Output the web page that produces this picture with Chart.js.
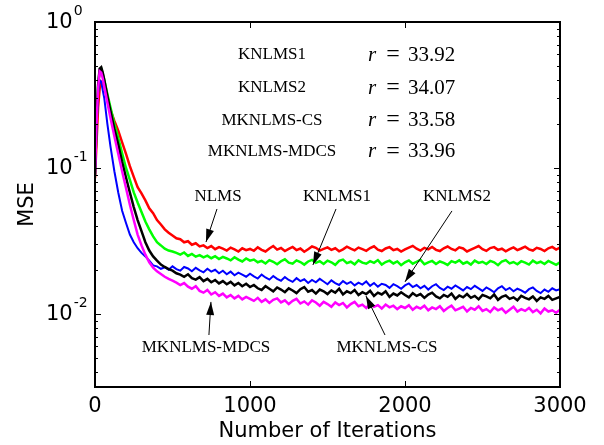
<!DOCTYPE html>
<html>
<head>
<meta charset="utf-8">
<script src="https://cdn.jsdelivr.net/npm/chart.js@4"></script>
<style>
  body { margin: 0; background: #fff; }
</style>
</head>
<body>
<canvas id="chart" width="604" height="445"></canvas>
<script>
// iteration index shared by all curves
const iters = [0, 10, 20, 30, 40, 50, 60, 80, 100,
  125, 150, 175, 200, 225, 250, 275, 300, 325, 350, 375, 400, 425, 450, 475, 500,
  525, 550, 575, 600, 625, 650, 675, 700, 725, 750, 775, 800, 825, 850, 875, 900,
  925, 950, 975, 1000,
  1025, 1050, 1075, 1100, 1125, 1150, 1175, 1200, 1225, 1250,
  1275, 1300, 1325, 1350, 1375, 1400, 1425, 1450, 1475, 1500,
  1525, 1550, 1575, 1600, 1625, 1650, 1675, 1700, 1725, 1750,
  1775, 1800, 1825, 1850, 1875, 1900, 1925, 1950, 1975, 2000,
  2025, 2050, 2075, 2100, 2125, 2150, 2175, 2200, 2225, 2250,
  2275, 2300, 2325, 2350, 2375, 2400, 2425, 2450, 2475, 2500,
  2525, 2550, 2575, 2600, 2625, 2650, 2675, 2700, 2725, 2750,
  2775, 2800, 2825, 2850, 2875, 2900, 2925, 2950, 2975, 3000];

const nlms = [.085, .15, .26, .35, .39, .38, .355, .30, .25,
  .21, .18, .15, .125, .103, .087, .074, .067, .060, .053, .049, .044, .041, .038, .036, .0345,
  .033, .0325, .031, .0315, .0298, .0305, .029, .0295, .0283, .0292, .0278, .0287, .028, .0272, .0285, .0277,
  .0268, .0282, .0274, .0279,
  .0271, .0286, .0275, .0268, .0281, .0292, .0276, .0283, .0270, .0279,
  .0288, .0274, .0281, .0267, .0278, .0290, .0284, .0272, .0279, .0286,
  .0275, .0282, .0269, .0277, .0289, .0280, .0273, .0285, .0278, .0271,
  .0283, .0291, .0276, .0270, .0281, .0287, .0274, .0279, .0268, .0277,
  .0285, .0293, .0280, .0272, .0284, .0277, .0288, .0275, .0270, .0282,
  .0290, .0279, .0273, .0286, .0281, .0268, .0276, .0284, .0292, .0278,
  .0271, .0283, .0287, .0275, .0280, .0269, .0278, .0286, .0274, .0281,
  .0289, .0277, .0272, .0284, .0279, .0270, .0282, .0288, .0276, .0285];

const knlms1 = [.09, .2, .36, .47, .48, .44, .40, .32, .26,
  .20, .16, .126, .10, .083, .068, .058, .050, .043, .038, .034, .031, .0295, .028, .0272, .0268,
  .0262, .0255, .0264, .0250, .0258, .0247, .0253, .0244, .0251, .0241, .0249, .0238, .0246, .0240, .0233, .0245,
  .0236, .0229, .0240, .0232,
  .0236, .0226, .0231, .0222, .0234, .0228, .0219, .0230, .0237, .0225,
  .0221, .0233, .0227, .0218, .0229, .0235, .0224, .0230, .0220, .0232,
  .0226, .0217, .0231, .0236, .0223, .0228, .0219, .0233, .0225, .0221,
  .0230, .0224, .0234, .0218, .0227, .0232, .0222, .0229, .0216, .0226,
  .0233, .0221, .0228, .0235, .0219, .0226, .0231, .0220, .0229, .0224,
  .0217, .0230, .0225, .0233, .0221, .0227, .0218, .0232, .0224, .0228,
  .0220, .0231, .0226, .0216, .0229, .0234, .0222, .0227, .0219, .0230,
  .0225, .0218, .0232, .0223, .0228, .0220, .0231, .0224, .0217, .0226];

const knlms2 = [.09, .2, .33, .40, .39, .34, .30, .20, .14,
  .095, .068, .051, .042, .035, .031, .0282, .0262, .0248, .0232, .0215, .0212, .0204, .0209, .0201, .0212,
  .0203, .0198, .0210, .0205, .0196, .0207, .0199, .0193, .0204, .0195, .0201, .0190, .0198, .0187, .0195, .0184,
  .0192, .0186, .0180, .0189,
  .0181, .0175, .0186, .0178, .0172, .0182, .0174, .0169, .0179, .0171,
  .0166, .0176, .0168, .0173, .0163, .0171, .0165, .0174, .0167, .0160,
  .0170, .0163, .0158, .0168, .0161, .0166, .0157, .0164, .0159, .0167,
  .0156, .0163, .0154, .0161, .0158, .0151, .0160, .0155, .0149, .0157,
  .0162, .0153, .0158, .0150, .0156, .0147, .0155, .0160, .0151, .0146,
  .0154, .0149, .0157, .0151, .0145, .0153, .0148, .0156, .0150, .0144,
  .0152, .0147, .0141, .0150, .0155, .0146, .0151, .0143, .0149, .0145,
  .0140, .0148, .0152, .0144, .0139, .0147, .0142, .0150, .0145, .0148];

const mknlmsCS = [.09, .2, .37, .48, .49, .45, .40, .31, .245,
  .185, .145, .11, .086, .068, .054, .044, .037, .031, .0272, .0248, .0232, .0218, .0210, .0203, .0198,
  .0190, .0186, .0180, .0187, .0176, .0172, .0179, .0168, .0174, .0165, .0171, .0162, .0168, .0160, .0166, .0157,
  .0163, .0155, .0161, .0153,
  .0158, .0150, .0146, .0155, .0149, .0143, .0152, .0147, .0141, .0150,
  .0145, .0139, .0148, .0153, .0142, .0146, .0138, .0147, .0143, .0137,
  .0145, .0140, .0149, .0136, .0143, .0139, .0146, .0135, .0141, .0137,
  .0144, .0133, .0140, .0136, .0143, .0131, .0138, .0134, .0141, .0135,
  .0130, .0139, .0133, .0137, .0129, .0136, .0140, .0132, .0128, .0135,
  .0131, .0138, .0127, .0134, .0130, .0137, .0129, .0133, .0126, .0135,
  .0132, .0128, .0136, .0125, .0131, .0134, .0127, .0130, .0124, .0133,
  .0129, .0126, .0132, .0123, .0130, .0127, .0133, .0125, .0128, .0131];

const mknlmsMDCS = [.09, .2, .35, .46, .45, .41, .36, .28, .22,
  .165, .125, .095, .073, .056, .044, .035, .0295, .0255, .0226, .0208, .0196, .0188, .0180, .0174, .0169,
  .0164, .0158, .0163, .0154, .0149, .0155, .0144, .0140, .0146, .0136, .0141, .0133, .0138, .0130, .0135, .0128,
  .0133, .0126, .0131, .0127,
  .0123, .0129, .0121, .0126, .0119, .0125, .0128, .0120, .0124, .0117,
  .0123, .0127, .0118, .0122, .0116, .0124, .0120, .0114, .0121, .0117,
  .0112, .0120, .0115, .0119, .0111, .0117, .0121, .0113, .0116, .0110,
  .0118, .0112, .0115, .0109, .0116, .0111, .0114, .0108, .0113, .0110,
  .0115, .0107, .0112, .0109, .0114, .0106, .0111, .0108, .0113, .0105,
  .0110, .0114, .0106, .0109, .0112, .0104, .0110, .0107, .0113, .0105,
  .0108, .0103, .0111, .0106, .0109, .0102, .0107, .0112, .0104, .0108,
  .0105, .0110, .0103, .0107, .0101, .0109, .0104, .0106, .0102, .0107];

const xTicks = [0, 1000, 2000, 3000];
const yTicks = [0.004, 0.005, 0.006, 0.007, 0.008, 0.009, 0.01,
  0.02, 0.03, 0.04, 0.05, 0.06, 0.07, 0.08, 0.09, 0.1,
  0.2, 0.3, 0.4, 0.5, 0.6, 0.7, 0.8, 0.9, 1];
const yMajor = [1, 0.1, 0.01];
const yExponents = ['0', '-1', '-2'];

// the r-value table in the upper right
const tableNames = ['KNLMS1', 'KNLMS2', 'MKNLMS-CS', 'MKNLMS-MDCS'];
const tableR = ['33.92', '34.07', '33.58', '33.96'];

// curve labels with arrows (data coordinates)
const notes = [
  { text: 'NLMS',        x: 794,  y: 0.0633,  from: [787, 0.0524],  to: [716, 0.0311] },
  { text: 'KNLMS1',      x: 1561, y: 0.0633,  from: [1555, 0.0524], to: [1406, 0.0217] },
  { text: 'KNLMS2',      x: 2335, y: 0.0633,  from: [2303, 0.0508], to: [2000, 0.0166] },
  { text: 'MKNLMS-CS',   x: 1884, y: 0.00585, from: [1871, 0.00718], to: [1748, 0.0133] },
  { text: 'MKNLMS-MDCS', x: 716,  y: 0.00585, from: [735, 0.00718], to: [748, 0.0121] }
];

const pts = arr => arr.map((v, i) => ({ x: iters[i], y: v }));

function arrow(ctx, x1, y1, x2, y2) {
  ctx.beginPath();
  ctx.moveTo(x1, y1);
  ctx.lineTo(x2, y2);
  ctx.stroke();
  const ang = Math.atan2(y2 - y1, x2 - x1);
  const len = 13, half = 4;
  ctx.beginPath();
  ctx.moveTo(x2, y2);
  ctx.lineTo(x2 - len * Math.cos(ang) + half * Math.sin(ang), y2 - len * Math.sin(ang) - half * Math.cos(ang));
  ctx.lineTo(x2 - len * Math.cos(ang) - half * Math.sin(ang), y2 - len * Math.sin(ang) + half * Math.cos(ang));
  ctx.closePath();
  ctx.fill();
}

const extras = {
  id: 'extras',
  afterDraw(chart) {
    const { ctx, chartArea: a } = chart;
    const x = chart.scales.x, y = chart.scales.y;
    ctx.save();
    ctx.strokeStyle = '#000';
    ctx.fillStyle = '#000';

    // inward ticks on all four sides
    ctx.lineWidth = 1;
    xTicks.forEach(v => {
      const px = Math.round(x.getPixelForValue(v)) + 0.5;
      ctx.beginPath();
      ctx.moveTo(px, a.bottom); ctx.lineTo(px, a.bottom - 6);
      ctx.moveTo(px, a.top); ctx.lineTo(px, a.top + 6);
      ctx.stroke();
    });
    yTicks.forEach(v => {
      const py = Math.round(y.getPixelForValue(v)) + 0.5;
      const len = yMajor.includes(v) ? 6 : 3;
      ctx.beginPath();
      ctx.moveTo(a.left, py); ctx.lineTo(a.left + len, py);
      ctx.moveTo(a.right, py); ctx.lineTo(a.right - len, py);
      ctx.stroke();
    });

    // frame
    ctx.lineWidth = 2;
    ctx.strokeRect(a.left, a.top, a.right - a.left, a.bottom - a.top);

    // y tick labels 10^k
    ctx.textAlign = 'left';
    ctx.textBaseline = 'middle';
    yMajor.forEach((v, i) => {
      const py = y.getPixelForValue(v);
      ctx.font = '21px "DejaVu Sans"';
      ctx.fillText('10', 46, py + 1);
      const w = ctx.measureText('10').width;
      ctx.font = '14px "DejaVu Sans"';
      ctx.fillText(yExponents[i], 46 + w + 1, py - 11);
    });

    // r table
    const rowY = [0.594, 0.353, 0.213, 0.129];
    tableNames.forEach((name, i) => {
      const py = y.getPixelForValue(rowY[i]);
      ctx.font = '17px "Liberation Serif"';
      ctx.textAlign = 'center';
      ctx.fillText(name, x.getPixelForValue(1142), py);
      const rx = x.getPixelForValue(1761);
      ctx.textAlign = 'left';
      ctx.font = 'italic 21px "Liberation Serif"';
      ctx.fillText('r', rx, py);
      ctx.textAlign = 'center';
      ctx.font = '24px "Liberation Serif"';
      ctx.fillText('=', rx + 25, py);
      ctx.textAlign = 'left';
      ctx.font = '21px "Liberation Serif"';
      ctx.fillText(tableR[i], rx + 40, py);
    });

    // curve labels and arrows
    ctx.lineWidth = 1;
    ctx.font = '17px "Liberation Serif"';
    ctx.textAlign = 'center';
    notes.forEach(n => {
      ctx.fillText(n.text, x.getPixelForValue(n.x), y.getPixelForValue(n.y));
      arrow(ctx,
        x.getPixelForValue(n.from[0]), y.getPixelForValue(n.from[1]),
        x.getPixelForValue(n.to[0]), y.getPixelForValue(n.to[1]));
    });
    ctx.restore();
  }
};

Chart.defaults.color = '#000';
Chart.defaults.font.family = '"DejaVu Sans"';

const ctx = document.getElementById('chart').getContext('2d');
new Chart(ctx, {
  type: 'line',
  data: {
    datasets: [
      { label: 'MKNLMS-MDCS', data: pts(mknlmsMDCS), borderColor: '#ff00ff', borderWidth: 2.5 },
      { label: 'MKNLMS-CS', data: pts(mknlmsCS), borderColor: '#000000', borderWidth: 2.5 },
      { label: 'KNLMS2', data: pts(knlms2), borderColor: '#0000ff', borderWidth: 2 },
      { label: 'KNLMS1', data: pts(knlms1), borderColor: '#00ff00', borderWidth: 2.5 },
      { label: 'NLMS', data: pts(nlms), borderColor: '#ff0000', borderWidth: 2.5 }
    ]
  },
  options: {
    responsive: false,
    animation: false,
    elements: { point: { radius: 0 }, line: { tension: 0 } },
    layout: { padding: { top: 22, right: 44, left: 0, bottom: 0 } },
    plugins: { legend: { display: false }, tooltip: { enabled: false } },
    scales: {
      x: {
        type: 'linear',
        min: 0, max: 3000,
        afterFit: s => { s.height = 58; },
        afterBuildTicks: s => { s.ticks = xTicks.map(v => ({ value: v })); },
        grid: { display: false, drawTicks: false },
        border: { display: false },
        ticks: { font: { size: 21 }, padding: 7, maxRotation: 0, autoSkip: false,
          callback: v => String(v) },
        title: { display: true, text: 'Number of Iterations', font: { size: 21 },
          padding: { top: 0, bottom: 1 } }
      },
      y: {
        type: 'logarithmic',
        min: 0.0031623, max: 1,
        afterFit: s => { s.width = 95; },
        afterBuildTicks: s => { s.ticks = yTicks.map(v => ({ value: v })); },
        grid: { display: false, drawTicks: false },
        border: { display: false },
        ticks: { display: false },
        title: { display: true, text: 'MSE', font: { size: 21 },
          padding: { top: 15, bottom: 0 } }
      }
    }
  },
  plugins: [extras]
});
</script>
</body>
</html>
